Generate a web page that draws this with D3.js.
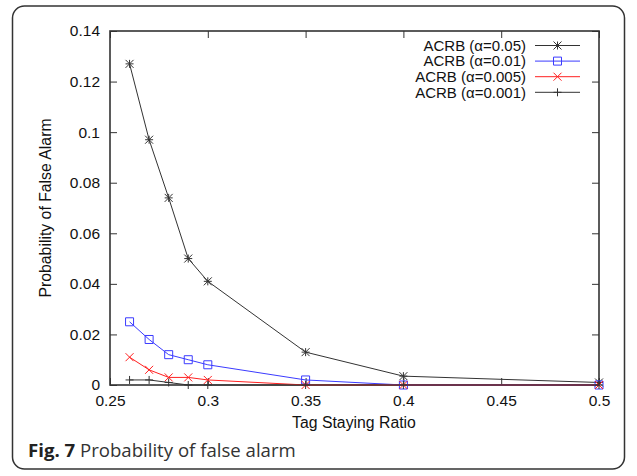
<!DOCTYPE html>
<html>
<head>
<meta charset="utf-8">
<script src="https://cdn.jsdelivr.net/npm/d3@7"></script>
<style>
  body { margin: 0; background: #fff; }
  text { font-family: "Liberation Sans", Arial, sans-serif; fill: #111; }
</style>
</head>
<body>
<script>
'use strict';

const xValues = [0.26, 0.27, 0.28, 0.29, 0.3, 0.35, 0.4, 0.5]
const a005 = [0.127, 0.097, 0.074, 0.050, 0.041, 0.013, 0.0035, 0.001]
const a001 = [0.025, 0.018, 0.012, 0.010, 0.008, 0.002, 0.0, 0.0]
const a0005 = [0.011, 0.006, 0.003, 0.003, 0.002, 0.0, 0.0, 0.0]
const a0001 = [0.002, 0.002, 0.001, 0.0, 0.0, 0.0, 0.0, 0.0]
const seriesNames = ['ACRB (\u03b1=0.05)', 'ACRB (\u03b1=0.01)', 'ACRB (\u03b1=0.005)', 'ACRB (\u03b1=0.001)']
const xTicks = [0.25, 0.3, 0.35, 0.4, 0.45, 0.5]
const yTicks = [0, 0.02, 0.04, 0.06, 0.08, 0.1, 0.12, 0.14]

const m = { width: 637, height: 476, left: 110, right: 599, top: 31, bottom: 385 }

const series = [
  { name: seriesNames[0], values: a005, color: '#333', marker: 'star' },
  { name: seriesNames[1], values: a001, color: '#3b3bff', marker: 'square' },
  { name: seriesNames[2], values: a0005, color: '#ff2020', marker: 'cross' },
  { name: seriesNames[3], values: a0001, color: '#333', marker: 'plus' }
]

const svg = d3.select('body').append('svg')
  .attr('width', m.width)
  .attr('height', m.height)

// outer rounded figure frame
svg.append('rect')
  .attr('x', 12.5).attr('y', 6)
  .attr('width', 612).attr('height', 463)
  .attr('rx', 12)
  .attr('fill', 'none')
  .attr('stroke', '#333')
  .attr('stroke-width', 1.5)

const xScale = d3.scaleLinear().domain([0.25, 0.5]).range([m.left, m.right])
const yScale = d3.scaleLinear().domain([0, 0.14]).range([m.bottom, m.top])

// axes with inward ticks, mirrored on top/right
svg.append('g')
  .attr('transform', 'translate(0,' + m.bottom + ')')
  .call(d3.axisBottom(xScale).tickValues(xTicks).tickSize(-7).tickPadding(10).tickFormat(d3.format('')))
svg.append('g')
  .attr('transform', 'translate(0,' + m.top + ')')
  .call(d3.axisTop(xScale).tickValues(xTicks).tickSize(-7).tickFormat(''))
svg.append('g')
  .attr('transform', 'translate(' + m.left + ',0)')
  .call(d3.axisLeft(yScale).tickValues(yTicks).tickSize(-7).tickPadding(10).tickFormat(d3.format('')))
svg.append('g')
  .attr('transform', 'translate(' + m.right + ',0)')
  .call(d3.axisRight(yScale).tickValues(yTicks).tickSize(-7).tickFormat(''))

svg.selectAll('.domain').attr('stroke', 'none')
svg.selectAll('.tick line').attr('stroke', '#333').attr('stroke-width', 1)
svg.selectAll('.tick text')
  .style('font-size', '15.5px')
  .style('font-family', '"Liberation Sans", Arial, sans-serif')
  .attr('fill', '#111')

svg.append('rect')
  .attr('x', m.left).attr('y', m.top)
  .attr('width', m.right - m.left).attr('height', m.bottom - m.top)
  .attr('fill', 'none')
  .attr('stroke', '#333')
  .attr('stroke-width', 1.6)

// axis labels
svg.append('text')
  .attr('x', 354)
  .attr('y', 428)
  .attr('text-anchor', 'middle')
  .style('font-size', '15.8px')
  .text('Tag Staying Ratio')

svg.append('text')
  .attr('transform', 'translate(51,' + (m.top + m.bottom) / 2 + ')rotate(-90)')
  .attr('text-anchor', 'middle')
  .style('font-size', '15.8px')
  .text('Probability of False Alarm')

// caption
const cap = svg.append('text')
  .attr('x', 28)
  .attr('y', 457)
  .style('font-family', '"Open Sans", "Noto Sans", sans-serif')
  .style('font-size', '18.6px')
cap.append('tspan').attr('font-weight', 'bold').attr('fill', '#222').text('Fig. 7')
cap.append('tspan').attr('fill', '#333').text(' Probability of false alarm')

function drawMarker(g, type, color) {
  const s = 4
  let p = ''
  if (type === 'star') {
    p = `M${-s},0H${s}M0,${-s}V${s}M${-s},${-s}L${s},${s}M${-s},${s}L${s},${-s}`
  } else if (type === 'square') {
    p = `M${-s},${-s}H${s}V${s}H${-s}Z`
  } else if (type === 'cross') {
    p = `M${-s},${-s}L${s},${s}M${-s},${s}L${s},${-s}`
  } else {
    p = `M${-s},0H${s}M0,${-s}V${s}`
  }
  g.append('path')
    .attr('d', p)
    .attr('fill', 'none')
    .attr('stroke', color)
    .attr('stroke-width', 1)
}

const line = d3.line()
  .x((d) => xScale(d[0]))
  .y((d) => yScale(d[1]))

series.forEach((s) => {
  const pts = xValues.map((x, i) => [x, s.values[i]])
  svg.append('path')
    .datum(pts)
    .attr('d', line)
    .attr('fill', 'none')
    .attr('stroke', s.color)
    .attr('stroke-width', 1)
  pts.forEach((d) => {
    const g = svg.append('g')
      .attr('transform', 'translate(' + xScale(d[0]) + ',' + yScale(d[1]) + ')')
    drawMarker(g, s.marker, s.color)
  })
})

// legend
const legend = svg.append('g')
series.forEach((s, i) => {
  const y = 45.5 + i * 15.6
  legend.append('text')
    .attr('x', 526)
    .attr('y', y)
    .attr('dy', '0.35em')
    .attr('text-anchor', 'end')
    .style('font-size', '15px')
    .text(s.name)
  legend.append('line')
    .attr('x1', 535).attr('x2', 580)
    .attr('y1', y).attr('y2', y)
    .attr('stroke', s.color)
    .attr('stroke-width', 1)
  const g = legend.append('g').attr('transform', 'translate(557.5,' + y + ')')
  drawMarker(g, s.marker, s.color)
})
</script>
</body>
</html>
